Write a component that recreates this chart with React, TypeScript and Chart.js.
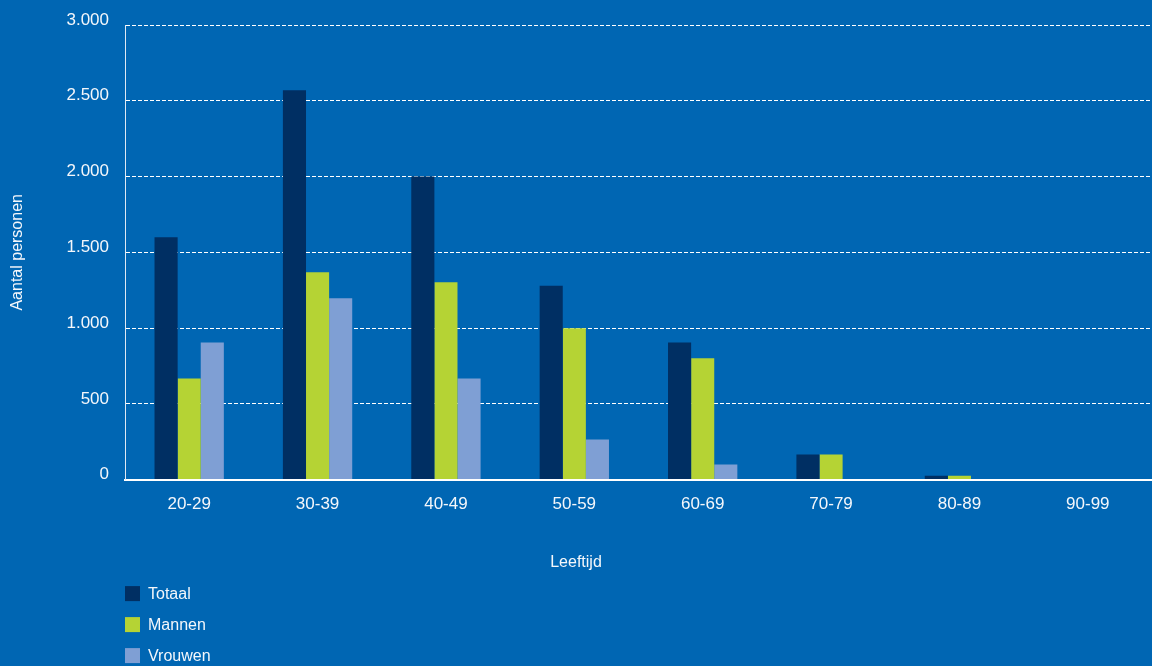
import React, { useEffect, useRef } from "react";
import { Chart, registerables } from "chart.js";

Chart.register(...registerables);

const categories = ["20-29", "30-39", "40-49", "50-59", "60-69", "70-79", "80-89", "90-99"];
const totaal = [1600, 2570, 2000, 1280, 905, 165, 26, 0];
const mannen = [667, 1368, 1302, 998, 800, 165, 26, 0];
const vrouwen = [905, 1196, 667, 264, 99, 0, 0, 0];
const seriesLabels = ["Totaal", "Mannen", "Vrouwen"];
const yTicks = [0, 500, 1000, 1500, 2000, 2500, 3000];

const BG = "#0066b3";
const TEXT = "#f4f7fb";
const FONT = "'Liberation Sans', Arial, sans-serif";
const colors = ["#002f63", "#b5d334", "#7f9fd4"];

const fmt = (v: number) => String(v).replace(/\B(?=(\d{3})+(?!\d))/g, ".");

const bgPlugin = {
  id: "bgFill",
  beforeDraw(chart: any) {
    const { ctx, width, height } = chart;
    ctx.save();
    ctx.fillStyle = BG;
    ctx.fillRect(0, 0, width, height);
    ctx.restore();
  },
};

const legendPlugin = {
  id: "vertLegend",
  afterDraw(chart: any) {
    const { ctx, chartArea } = chart;
    ctx.save();
    ctx.font = `16px ${FONT}`;
    ctx.textBaseline = "middle";
    ctx.textAlign = "left";
    chart.data.datasets.forEach((ds: any, i: number) => {
      const cy = chartArea.bottom + 114 + i * 31;
      ctx.fillStyle = ds.backgroundColor;
      ctx.fillRect(chartArea.left, cy - 7.5, 15, 15);
      ctx.fillStyle = TEXT;
      ctx.fillText(ds.label, chartArea.left + 23, cy + 1);
    });
    ctx.restore();
  },
};

export default function App() {
  const ref = useRef<HTMLCanvasElement>(null);

  useEffect(() => {
    document.body.style.margin = "0";
    document.body.style.background = BG;
    const chart = new Chart(ref.current!, {
      type: "bar",
      data: {
        labels: categories,
        datasets: [totaal, mannen, vrouwen].map((d, i) => ({
          label: seriesLabels[i],
          data: d,
          backgroundColor: colors[i],
          borderWidth: 0,
          categoryPercentage: 0.54,
          barPercentage: 1,
        })),
      },
      options: {
        animation: false,
        responsive: false,
        maintainAspectRatio: false,
        layout: { padding: { top: 25, left: 0, right: 0, bottom: 93.8 } },
        plugins: {
          legend: { display: false },
          tooltip: { enabled: false },
          title: {
            display: true,
            position: "bottom",
            text: "Leeftijd",
            color: TEXT,
            font: { family: FONT, size: 16, weight: "normal" },
            padding: { top: 24.4, bottom: 0 },
          },
        },
        scales: {
          x: {
            grid: { display: false, drawTicks: false },
            border: { display: true, color: "#ffffff", width: 2 },
            ticks: { color: TEXT, font: { family: FONT, size: 17 }, padding: 15, maxRotation: 0 },
            afterFit: (s: any) => { s.height = 49; },
          },
          y: {
            min: 0,
            max: 3000,
            afterBuildTicks: (s: any) => { s.ticks = yTicks.map((v) => ({ value: v })); },
            grid: { color: "#ffffff", lineWidth: 1, drawTicks: false },
            border: { display: true, color: "#dfe8f3", width: 1, dash: [4, 2] },
            ticks: {
              color: TEXT,
              font: { family: FONT, size: 17 },
              padding: 16,
              labelOffset: -5,
              callback: (v: any) => fmt(Number(v)),
            },
            title: {
              display: true,
              text: "Aantal personen",
              color: TEXT,
              font: { family: FONT, size: 16 },
              padding: { top: 8, bottom: 0 },
            },
            afterFit: (s: any) => { s.width = 125; s.paddingTop = 0; s.paddingBottom = 0; },
          },
        },
      },
      plugins: [bgPlugin, legendPlugin],
    } as any);
    return () => chart.destroy();
  }, []);

  return <canvas ref={ref} width={1152} height={666} style={{ display: "block", width: 1152, height: 666 }} />;
}
